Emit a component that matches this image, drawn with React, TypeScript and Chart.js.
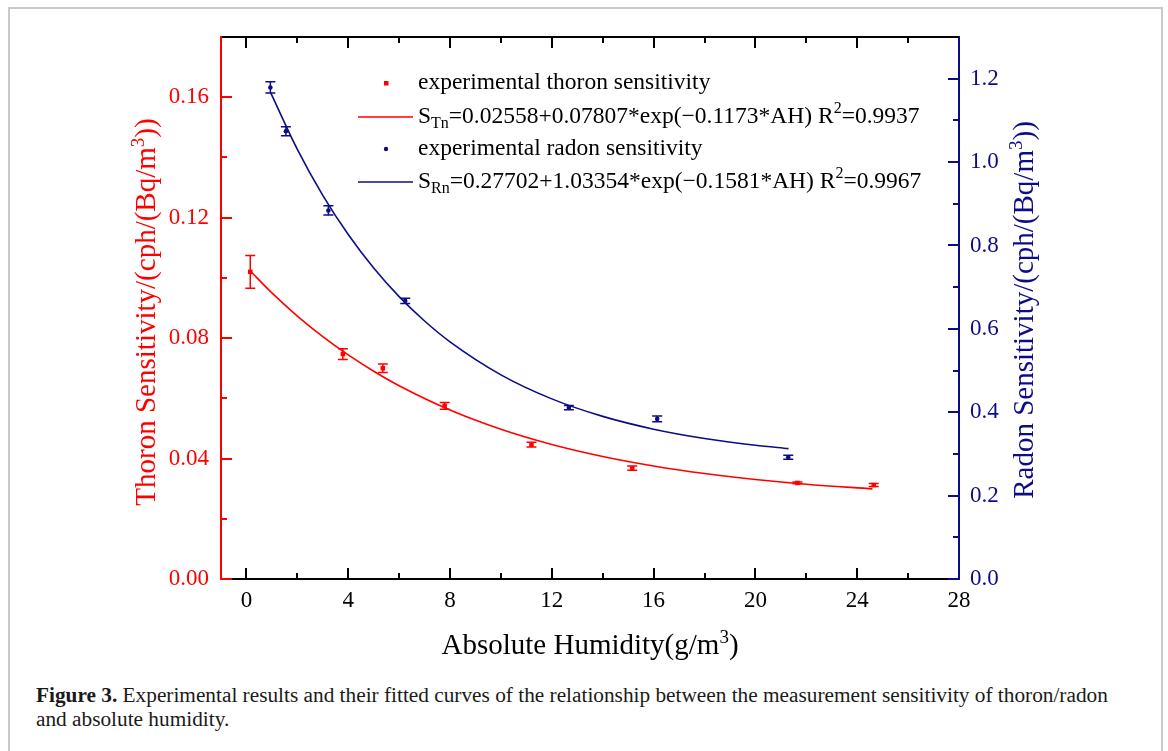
import React, { useEffect, useRef } from "react";
import { Chart, registerables } from "chart.js";

Chart.register(...registerables);

// ---------- data ----------
const thoronAH = [0.15, 3.79, 5.36, 7.79, 11.2, 15.16, 21.65, 24.65];
const thoronSens = [0.102, 0.0747, 0.07, 0.0575, 0.0446, 0.0368, 0.0319, 0.0312];
const thoronErr = [0.0054, 0.0018, 0.0014, 0.0011, 0.0008, 0.0007, 0.0003, 0.0005];

const radonAH = [0.94, 1.55, 3.22, 6.24, 12.67, 16.14, 21.29];
const radonSens = [1.179, 1.074, 0.884, 0.667, 0.411, 0.384, 0.292];
const radonErr = [0.0136, 0.011, 0.011, 0.0065, 0.005, 0.007, 0.005];

const thoronFitAH = [0.15, 1, 2, 3, 4, 5, 6, 8, 10, 12, 14, 16, 18, 20, 22, 24.6];
const thoronFitSens = [
  0.10229, 0.09501, 0.08733, 0.08049, 0.07441, 0.06901, 0.0642, 0.05613, 0.04974,
  0.04468, 0.04069, 0.03753, 0.03503, 0.03305, 0.03149, 0.02994,
];

const radonFitAH = [0.95, 2, 3, 4, 5, 6, 7, 8, 10, 12, 14, 16, 18, 20, 21.3];
const radonFitSens = [
  1.16642, 1.03035, 0.92018, 0.82614, 0.74585, 0.6773, 0.61877, 0.5688, 0.4897,
  0.43204, 0.39002, 0.35938, 0.33706, 0.32078, 0.31265,
];

const xMajorTicks = [0, 4, 8, 12, 16, 20, 24, 28];
const xMinorTicks = [2, 6, 10, 14, 18, 22, 26];
const thoronMajorTicks = [0, 0.04, 0.08, 0.12, 0.16];
const thoronMinorTicks = [0.02, 0.06, 0.1, 0.14];
const radonMajorTicks = [0, 0.2, 0.4, 0.6, 0.8, 1.0, 1.2];
const radonMinorTicks = [0.1, 0.3, 0.5, 0.7, 0.9, 1.1];

const xTitle = [{ t: "Absolute Humidity(g/m" }, { t: "3", sup: true }, { t: ")" }];
const thoronTitle = [{ t: "Thoron Sensitivity/(cph/(Bq/m" }, { t: "3", sup: true }, { t: "))" }];
const radonTitle = [{ t: "Radon Sensitivity/(cph/(Bq/m" }, { t: "3", sup: true }, { t: "))" }];

const legendEntries = [
  { kind: "rect", series: "thoron", parts: [{ t: "experimental thoron sensitivity" }] },
  {
    kind: "line",
    series: "thoron",
    parts: [
      { t: "S" },
      { t: "Tn", sub: true },
      { t: "=0.02558+0.07807*exp(−0.1173*AH) R" },
      { t: "2", sup: true },
      { t: "=0.9937" },
    ],
  },
  { kind: "dot", series: "radon", parts: [{ t: "experimental radon sensitivity" }] },
  {
    kind: "line",
    series: "radon",
    parts: [
      { t: "S" },
      { t: "Rn", sub: true },
      { t: "=0.27702+1.03354*exp(−0.1581*AH) R" },
      { t: "2", sup: true },
      { t: "=0.9967" },
    ],
  },
];

const captionBold = "Figure 3.";
const captionLine1 = " Experimental results and their fitted curves of the relationship between the measurement sensitivity of thoron/radon";
const captionLine2 = "and absolute humidity.";

// ---------- styling ----------
const RED = "#ff0000";
const NAVY = "#0c0c86";
const SERIF = "'Liberation Serif', 'Times New Roman', serif";
const W = 1168;
const H = 680;

const toPoints = (xs: number[], ys: number[]) => xs.map((x, i) => ({ x, y: ys[i] }));

// draws a run of text parts (with sub/superscripts); returns total width
const drawParts = (
  ctx: CanvasRenderingContext2D,
  parts: any[],
  x0: number,
  y0: number,
  size: number,
  smallSize: number,
  supShift: number,
  subShift: number,
  align: "left" | "center"
) => {
  ctx.textAlign = "left";
  ctx.textBaseline = "alphabetic";
  const fontFor = (p: any) => `${p.sub || p.sup ? smallSize : size}px ${SERIF}`;
  let total = 0;
  parts.forEach((p) => {
    ctx.font = fontFor(p);
    total += ctx.measureText(p.t).width;
  });
  let x = align === "center" ? x0 - total / 2 : x0;
  parts.forEach((p) => {
    ctx.font = fontFor(p);
    const y = p.sup ? y0 - supShift : p.sub ? y0 + subShift : y0;
    ctx.fillText(p.t, x, y);
    x += ctx.measureText(p.t).width;
  });
  return total;
};

const errorBarPlugin = {
  id: "errorBars",
  afterDatasetsDraw(chart: any) {
    const ctx = chart.ctx;
    chart.data.datasets.forEach((ds: any, di: number) => {
      if (!ds.errors) return;
      const meta = chart.getDatasetMeta(di);
      const ys = chart.scales[ds.yAxisID];
      ctx.save();
      ctx.strokeStyle = ds.borderColor;
      ctx.lineWidth = 1.5;
      meta.data.forEach((el: any, i: number) => {
        const v = ds.data[i].y;
        const e = ds.errors[i];
        const x = el.x;
        const yt = ys.getPixelForValue(v + e);
        const yb = ys.getPixelForValue(v - e);
        ctx.beginPath();
        ctx.moveTo(x, yt);
        ctx.lineTo(x, yb);
        ctx.moveTo(x - 5, yt);
        ctx.lineTo(x + 5, yt);
        ctx.moveTo(x - 5, yb);
        ctx.lineTo(x + 5, yb);
        ctx.stroke();
      });
      ctx.restore();
    });
  },
};

const framePlugin = {
  id: "frame",
  afterDraw(chart: any) {
    const ctx = chart.ctx;
    const { left, right, top, bottom } = chart.chartArea;
    const L = Math.round(left);
    const R = Math.round(right);
    const T = Math.round(top);
    const B = Math.round(bottom);
    const xs = chart.scales.x;
    const yl = chart.scales.y;
    const yr = chart.scales.y2;
    const seg = (x1: number, y1: number, x2: number, y2: number) => {
      ctx.beginPath();
      ctx.moveTo(x1, y1);
      ctx.lineTo(x2, y2);
      ctx.stroke();
    };
    ctx.save();
    ctx.lineWidth = 2;
    ctx.lineCap = "butt";
    // bottom & top axes (black)
    ctx.strokeStyle = "#000";
    seg(L, B, R, B);
    seg(L, T, R, T);
    xMajorTicks.forEach((v) => {
      const p = Math.round(xs.getPixelForValue(v));
      seg(p, B, p, B - 11);
      seg(p, T, p, T + 11);
    });
    xMinorTicks.forEach((v) => {
      const p = Math.round(xs.getPixelForValue(v));
      seg(p, B, p, B - 6);
      seg(p, T, p, T + 6);
    });
    // left axis (red)
    ctx.strokeStyle = RED;
    seg(L, T - 1, L, B + 1);
    thoronMajorTicks.forEach((v) => {
      const p = Math.round(yl.getPixelForValue(v));
      seg(L, p, L + 11, p);
    });
    thoronMinorTicks.forEach((v) => {
      const p = Math.round(yl.getPixelForValue(v));
      seg(L, p, L + 6, p);
    });
    // right axis (navy)
    ctx.strokeStyle = NAVY;
    seg(R, T - 1, R, B + 1);
    radonMajorTicks.forEach((v) => {
      const p = Math.round(yr.getPixelForValue(v));
      seg(R, p, R - 11, p);
    });
    radonMinorTicks.forEach((v) => {
      const p = Math.round(yr.getPixelForValue(v));
      seg(R, p, R - 6, p);
    });

    // axis titles
    ctx.fillStyle = "#000";
    drawParts(ctx, xTitle, (left + right) / 2, 654, 29, 19, 11, 0, "center");

    ctx.save();
    ctx.fillStyle = RED;
    ctx.translate(155, 312);
    ctx.rotate(-Math.PI / 2);
    drawParts(ctx, thoronTitle, 0, 0, 29, 19, 11, 0, "center");
    ctx.restore();

    ctx.save();
    ctx.fillStyle = NAVY;
    ctx.translate(1033, 310);
    ctx.rotate(-Math.PI / 2);
    drawParts(ctx, radonTitle, 0, 0, 29, 19, 11, 0, "center");
    ctx.restore();

    // legend
    const rowY = [83, 117, 149, 182];
    legendEntries.forEach((entry, i) => {
      const color = entry.series === "thoron" ? RED : NAVY;
      const cy = rowY[i];
      ctx.fillStyle = color;
      ctx.strokeStyle = color;
      if (entry.kind === "rect") {
        ctx.fillRect(384, cy - 2, 4.5, 4.5);
      } else if (entry.kind === "dot") {
        ctx.beginPath();
        ctx.arc(386, cy, 2.2, 0, Math.PI * 2);
        ctx.fill();
      } else {
        ctx.lineWidth = 1.6;
        seg(358, cy, 413, cy);
      }
      ctx.fillStyle = "#000";
      drawParts(ctx, entry.parts, 418, cy + 6, 23.5, 16, 10, 5, "left");
    });
    ctx.restore();
  },
};

export default function App() {
  const ref = useRef<HTMLCanvasElement>(null);

  useEffect(() => {
    if (!ref.current) return;
    const chart = new Chart(ref.current, {
      type: "scatter",
      data: {
        datasets: [
          {
            label: "experimental thoron sensitivity",
            data: toPoints(thoronAH, thoronSens),
            yAxisID: "y",
            pointStyle: "rect",
            pointRadius: 3.2,
            pointHoverRadius: 3.2,
            backgroundColor: RED,
            borderColor: RED,
            borderWidth: 0,
            showLine: false,
            errors: thoronErr,
            order: 1,
          } as any,
          {
            label: "thoron fit",
            data: toPoints(thoronFitAH, thoronFitSens),
            yAxisID: "y",
            showLine: true,
            pointRadius: 0,
            borderColor: RED,
            borderWidth: 1.6,
            cubicInterpolationMode: "monotone",
            fill: false,
            order: 2,
          } as any,
          {
            label: "experimental radon sensitivity",
            data: toPoints(radonAH, radonSens),
            yAxisID: "y2",
            pointStyle: "circle",
            pointRadius: 2.3,
            pointHoverRadius: 2.3,
            backgroundColor: NAVY,
            borderColor: NAVY,
            borderWidth: 0,
            showLine: false,
            errors: radonErr,
            order: 1,
          } as any,
          {
            label: "radon fit",
            data: toPoints(radonFitAH, radonFitSens),
            yAxisID: "y2",
            showLine: true,
            pointRadius: 0,
            borderColor: NAVY,
            borderWidth: 1.6,
            cubicInterpolationMode: "monotone",
            fill: false,
            order: 2,
          } as any,
        ],
      },
      options: {
        animation: false,
        responsive: false,
        maintainAspectRatio: false,
        devicePixelRatio: 1,
        layout: { padding: { top: 37, left: 0, right: 0, bottom: 0 } },
        plugins: {
          legend: { display: false },
          tooltip: { enabled: false },
          title: { display: false },
        },
        scales: {
          x: {
            type: "linear",
            position: "bottom",
            min: -1,
            max: 28,
            grid: { display: false, drawTicks: false },
            border: { display: false },
            ticks: {
              color: "#000",
              font: { family: SERIF, size: 23 },
              padding: 8,
              maxRotation: 0,
              autoSkip: false,
              callback: (v: any) => String(v),
            },
            afterBuildTicks: (s: any) => {
              s.ticks = xMajorTicks.map((v) => ({ value: v }));
            },
            afterFit: (s: any) => {
              s.height = H - 579;
            },
          },
          y: {
            type: "linear",
            position: "left",
            min: 0,
            max: 0.18,
            grid: { display: false, drawTicks: false },
            border: { display: false },
            ticks: {
              color: RED,
              font: { family: SERIF, size: 23 },
              padding: 12,
              autoSkip: false,
              callback: (v: any) => Number(v).toFixed(2),
            },
            afterBuildTicks: (s: any) => {
              s.ticks = thoronMajorTicks.map((v) => ({ value: v }));
            },
            afterFit: (s: any) => {
              s.width = 221;
            },
          },
          y2: {
            type: "linear",
            position: "right",
            min: 0,
            max: 1.3,
            grid: { display: false, drawTicks: false },
            border: { display: false },
            ticks: {
              color: NAVY,
              font: { family: SERIF, size: 23 },
              padding: 11,
              autoSkip: false,
              callback: (v: any) => Number(v).toFixed(1),
            },
            afterBuildTicks: (s: any) => {
              s.ticks = radonMajorTicks.map((v) => ({ value: v }));
            },
            afterFit: (s: any) => {
              s.width = W - 959;
            },
          },
        },
      } as any,
      plugins: [errorBarPlugin, framePlugin],
    });
    return () => chart.destroy();
  }, []);

  return (
    <div
      style={{
        position: "absolute",
        left: 0,
        top: 0,
        width: W,
        height: 751,
        overflow: "hidden",
        background: "#fff",
      }}
    >
      <div
        style={{
          position: "absolute",
          left: 8,
          top: 7,
          width: 1155,
          height: 800,
          boxSizing: "border-box",
          border: "2px solid #c9c9c9",
        }}
      />
      <canvas
        ref={ref}
        width={W}
        height={H}
        style={{ position: "absolute", left: 0, top: 0, width: W, height: H }}
      />
      <div
        style={{
          position: "absolute",
          left: 36,
          top: 683,
          fontFamily: SERIF,
          fontSize: 21.3,
          lineHeight: "24px",
          color: "#1a1a1a",
          whiteSpace: "nowrap",
        }}
      >
        <b>{captionBold}</b>
        {captionLine1}
        <br />
        {captionLine2}
      </div>
    </div>
  );
}
